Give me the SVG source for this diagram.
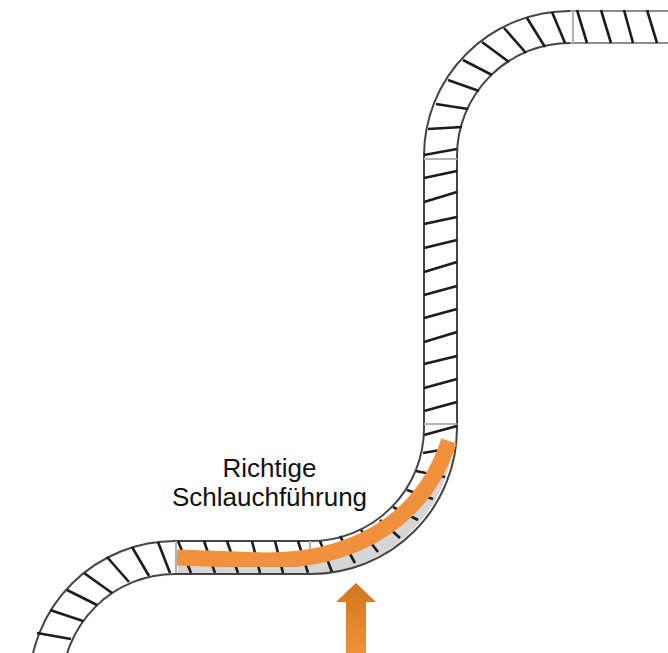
<svg xmlns="http://www.w3.org/2000/svg" width="668" height="653" viewBox="0 0 668 653">
<style>
.wall{fill:none;stroke:#444;stroke-width:2}
.wallg{fill:none;stroke:#8c8c8c;stroke-width:2}
.rib{fill:none;stroke:#1c1c1c;stroke-width:2.6}
.seam{fill:none;stroke:#b4b4b4;stroke-width:2.2}
.label{font-family:"Liberation Sans",Arial,sans-serif;font-size:26px;fill:#111;text-anchor:middle}
</style>
<defs>
<filter id="soft" x="-5%" y="-5%" width="110%" height="110%"><feGaussianBlur stdDeviation="0.6"/></filter>
<filter id="softer" x="-20%" y="-20%" width="140%" height="140%"><feGaussianBlur stdDeviation="0.7"/></filter>
<linearGradient id="arrowFill" x1="0" y1="0" x2="0" y2="1"><stop offset="0" stop-color="#cf771f"/><stop offset="1" stop-color="#f0913a"/></linearGradient>
</defs>
<rect width="668" height="653" fill="#fff"/>
<g id="hose" filter="url(#soft)">
<path d="M178,558 H311 A138,130 0 0 0 445,445 L453,447 A146,146 0 0 1 311,574 H178 Z" fill="#d6d6d6"/>
<path class="wallg" d="M570,11 H668 M570,43 H668"/>
<path class="wall" d="M570,11 A146,145 0 0 0 424,156 V428 A113,113 0 0 1 311,541 H175 A146,146 0 0 0 29,687"/>
<path class="wall" d="M570,43 A113,113 0 0 0 457,156 V428 A146,146 0 0 1 311,574 H175 A113,113 0 0 0 62,687"/>
<path class="seam" d="M573,11 V43 M424,159 H457 M424,424 H457 M176,541 V573 M310,541 V556"/>
<path class="rib" d="M577,10 L587,43 M601,10 L611,43 M624,10 L633,43 M647,10 L657,43
M552,12 L565,43 M527,18 L545,47 M504,28 L526,53 M482,42 L509,62 M463,60 L492,75 M448,80 L479,91 M436,104 L468,109 M428,129 L462,127 M424,155 L457,149 M424,178 L457,171
M424,202 L457,192 M424,224 L457,217 M424,248 L457,240 M424,272 L457,262 M424,295 L457,286 M424,318 L457,309 M424,342 L457,332 M424,364 L457,356 M424,388 L457,379 M424,411 L457,402 M424,435 L457,426
M423,453 L452,448 M416,471 L445,477 M407,490 L433,499 M393,507 L418,520 M380,520 L400,538 M361,530 L378,552 M340,536 L355,563 M320,541 L332,572 M298,541 L308,573 M275,541 L283,573 M252,541 L260,573 M227,541 L238,573 M204,541 L215,573 M178,541 L191,573
M158,542 L170,573 M132,547 L149,576 M107,557 L129,582 M84,573 L112,593 M67,590 L97,605 M50,610 L83,621 M37,633 L71,639"/>
</g>
<g id="hose-route" filter="url(#soft)">
<path d="M177,557.5 L250,560 C340,565 420,530 449,441" fill="none" stroke="#f2913c" stroke-width="16"/>
</g>
<g id="arrow" filter="url(#softer)">
<path d="M356,583 L376,602 H366 V653 H346 V602 H336 Z" fill="url(#arrowFill)"/>
</g>
<g id="caption">
<text class="label" x="269.500" y="477">Richtige</text>
<text class="label" x="269.500" y="506">Schlauchführung</text>
</g>
</svg>
